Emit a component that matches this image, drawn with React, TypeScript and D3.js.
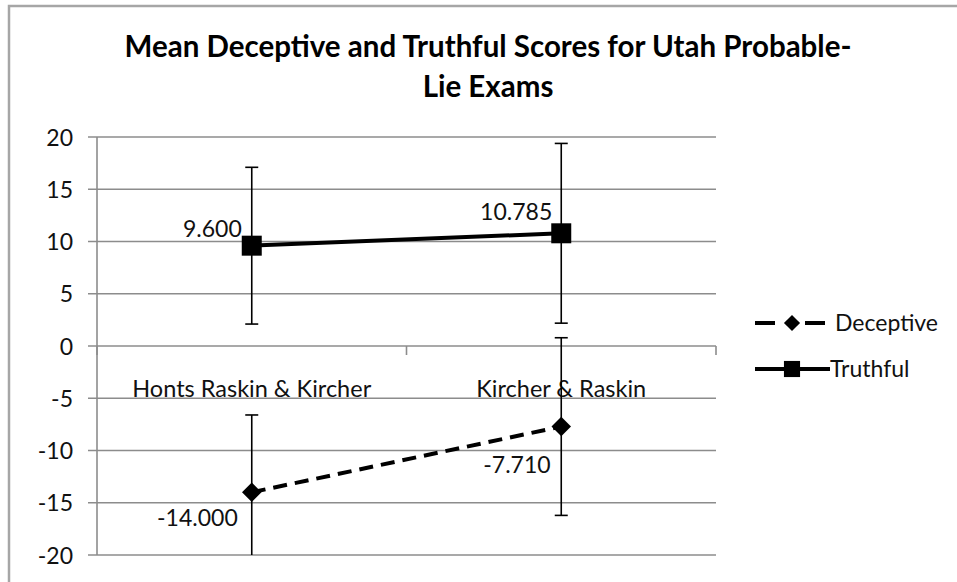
import React from 'react';
import { scaleLinear, scaleBand, line, symbol, symbolSquare } from 'd3';

const categories = ['Honts Raskin & Kircher', 'Kircher & Raskin'];
const deceptive = [-14.0, -7.71];
const deceptiveErr = [7.4, 8.5];
const truthful = [9.6, 10.785];
const truthfulErr = [7.5, 8.6];
const yTicks = [-20, -15, -10, -5, 0, 5, 10, 15, 20];
const seriesNames = ['Deceptive', 'Truthful'];

const font = 'Lato, "Open Sans", sans-serif';

const App = () => {
    const width = 957;
    const height = 582;
    const left = 97, right = 716, top = 137, bottom = 555;

    const xScale = scaleBand().domain(categories).range([left, right]);
    const cx = (c: string) => (xScale(c) as number) + xScale.bandwidth() / 2;
    const yScale = scaleLinear().domain([-20, 20]).range([bottom, top]);
    const zeroY = yScale(0);

    // diamond = square turned 45 degrees
    const series = [
        { name: seriesNames[0], values: deceptive, errs: deceptiveErr, dash: '14,8', rot: 45, size: 190 },
        { name: seriesNames[1], values: truthful, errs: truthfulErr, dash: undefined, rot: 0, size: 400 },
    ];

    const lineGen = line<number>()
        .x((d, i) => cx(categories[i]))
        .y(d => yScale(d));

    // data label offsets (dx, dy, anchor) as placed in the original
    const labelPos: Record<string, [number, number, string][]> = {
        Deceptive: [[-14, 34, 'end'], [-78, 46, 'start']],
        Truthful: [[-10, -9, 'end'], [-9, -13, 'end']],
    };

    return (
        <svg width={width} height={height} style={{ display: 'block', position: 'absolute', left: 0, top: 0 }}>
            <rect x={0} y={0} width={width} height={height} fill="#fff" />
            <rect x={9} y={6} width={1200} height={1200} fill="none" stroke="#a6a6a6" strokeWidth={2.5} />
            <defs>
                <clipPath id="plot">
                    <rect x={left - 20} y={top} width={right - left + 40} height={bottom - top} />
                </clipPath>
            </defs>

            <text x={488} y={57} textAnchor="middle" fontFamily={font} fontWeight="bold" fontSize={29.5} fill="#000">
                Mean Deceptive and Truthful Scores for Utah Probable-
            </text>
            <text x={488} y={97} textAnchor="middle" fontFamily={font} fontWeight="bold" fontSize={29.5} fill="#000">
                Lie Exams
            </text>

            {yTicks.map(t => (
                <g key={t}>
                    <line x1={left - 9} x2={right} y1={yScale(t)} y2={yScale(t)} stroke="#8c8c8c" strokeWidth={1.6} />
                    <text x={73} y={yScale(t) + 8.5} textAnchor="end" fontFamily={font} fontSize={23} fill="#111">{t}</text>
                </g>
            ))}
            <line x1={left} x2={left} y1={top} y2={bottom} stroke="#8c8c8c" strokeWidth={1.6} />

            {[left, left + xScale.bandwidth(), right].map((x, i) => (
                <line key={i} x1={x} x2={x} y1={zeroY} y2={zeroY + 9} stroke="#8c8c8c" strokeWidth={1.6} />
            ))}
            {categories.map(c => (
                <text key={c} x={cx(c)} y={397} textAnchor="middle" fontFamily={font} fontSize={23.5} fill="#111">{c}</text>
            ))}

            <g clipPath="url(#plot)">
                {series.map(s => s.values.map((v, i) => {
                    const x = cx(categories[i]);
                    const hi = v + s.errs[i];
                    const lo = v - s.errs[i];
                    return (
                        <g key={s.name + i} stroke="#000" strokeWidth={1.6}>
                            <line x1={x} x2={x} y1={yScale(hi)} y2={yScale(lo)} />
                            <line x1={x - 6.5} x2={x + 6.5} y1={yScale(hi)} y2={yScale(hi)} />
                            <line x1={x - 6.5} x2={x + 6.5} y1={yScale(lo)} y2={yScale(lo)} />
                        </g>
                    );
                }))}
            </g>

            {series.map(s => (
                <g key={s.name}>
                    <path d={lineGen(s.values) as string} fill="none" stroke="#000" strokeWidth={4} strokeDasharray={s.dash} />
                    {s.values.map((v, i) => (
                        <path key={i} transform={`translate(${cx(categories[i])},${yScale(v)}) rotate(${s.rot})`}
                            d={symbol(symbolSquare, s.size)() as string} fill="#000" />
                    ))}
                    {s.values.map((v, i) => {
                        const [dx, dy, anchor] = labelPos[s.name][i];
                        return (
                            <text key={'l' + i} x={cx(categories[i]) + dx} y={yScale(v) + dy} textAnchor={anchor}
                                fontFamily={font} fontSize={23} fill="#111">{v.toFixed(3)}</text>
                        );
                    })}
                </g>
            ))}

            {series.map((s, i) => {
                const ly = 323 + i * 46;
                return (
                    <g key={'leg' + s.name}>
                        <line x1={755} x2={s.dash ? 825 : 830} y1={ly} y2={ly} stroke="#000" strokeWidth={4}
                            strokeDasharray={s.dash ? '20,30' : undefined} />
                        <path transform={`translate(792,${ly}) rotate(${s.rot})`} d={symbol(symbolSquare, s.dash ? 130 : 260)() as string} fill="#000" />
                        <text x={s.dash ? 835 : 830} y={ly + 8} fontFamily={font} fontSize={23} fill="#111">{s.name}</text>
                    </g>
                );
            })}
        </svg>
    );
};

export default App;
